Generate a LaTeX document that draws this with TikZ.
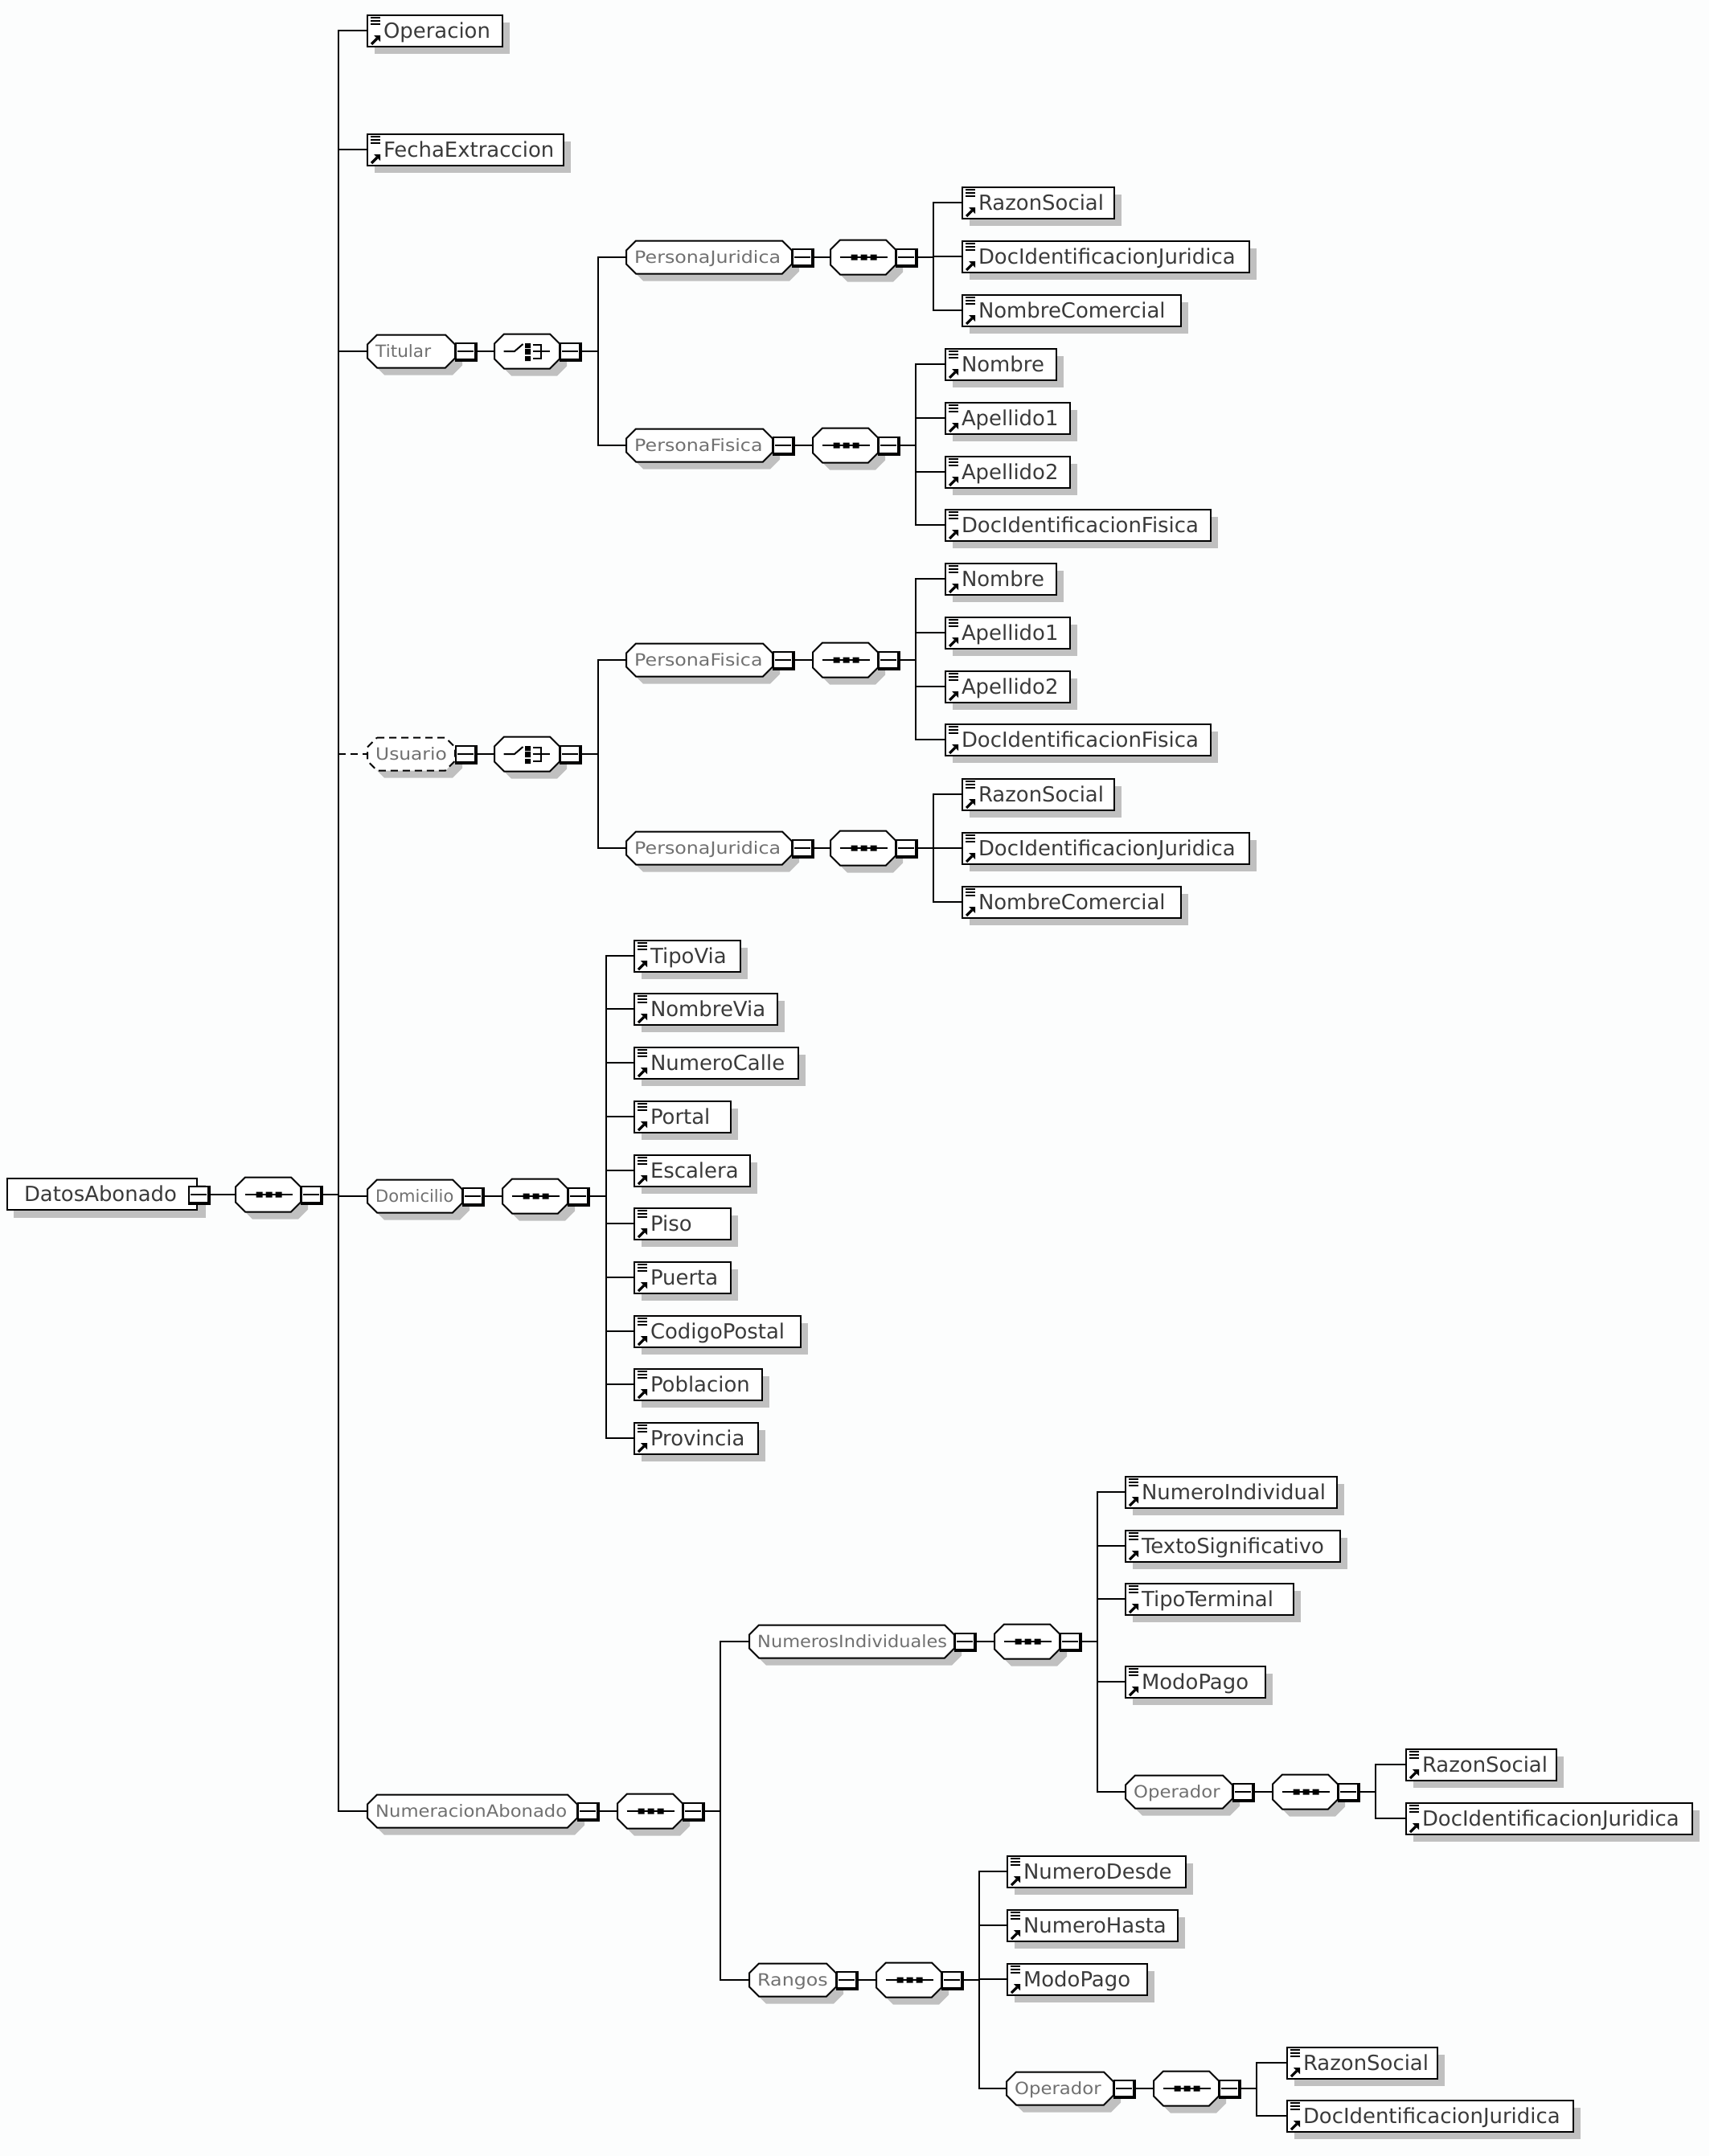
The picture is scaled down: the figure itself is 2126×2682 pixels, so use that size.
\documentclass[tikz,border=0pt]{standalone}
\usepackage{fontspec}
\setmainfont{DejaVu Sans}
\usetikzlibrary{shadows}
\definecolor{shad}{HTML}{C0C0C0}
\definecolor{paper}{HTML}{FCFDFD}
\definecolor{etext}{HTML}{3A3A3A}
\definecolor{ctext}{HTML}{707070}
\tikzset{
  conn/.style={line width=2pt,black},
  elem/.style={draw=black,line width=2pt,fill=white,inner sep=0pt,minimum height=39pt,anchor=west,
    text height=21pt,text depth=3pt,text=etext,font=\fontsize{25.9}{30}\selectfont,
    general shadow={shadow xshift=9pt,shadow yshift=-9pt,fill=shad}},
  cplxtext/.style={inner sep=0pt,minimum height=41pt,anchor=west,text height=18pt,text depth=3pt,
    text=ctext,font=\fontsize{21}{26}\selectfont},
  octline/.style={draw=black,line width=2pt,fill=white},
  sqbox/.style={draw=black,line width=2pt,fill=white,inner sep=0pt,minimum width=25pt,minimum height=21pt,anchor=west}
}
\newcommand{\xs}[2]{\scalebox{#1}[1]{#2}}
% square collapse box: name, left x, y
\newcommand{\sqb}[3]{%
  \node[sqbox] (#1) at (#2,#3) {};
  \draw[line width=4pt] ([xshift=-1pt]#1.north east) -- ([xshift=-1pt,yshift=1pt]#1.south east) -- ([yshift=1pt]#1.south west);
  \draw[line width=2pt] ([xshift=3pt]#1.west) -- ([xshift=-4pt]#1.east);
}
% octagon outline with its shadow: [style]{x1}{x2}{y}{half height}
\newcommand{\octo}[5][]{%
  \pgfmathsetmacro{\xa}{#2}\pgfmathsetmacro{\xb}{#3}\pgfmathsetmacro{\yc}{#4}\pgfmathsetmacro{\hh}{#5}%
  \fill[shad,shift={(9pt,-9pt)}] (\xa+12,\yc-\hh) -- (\xb-12,\yc-\hh) -- (\xb,\yc-\hh+12) -- (\xb,\yc+\hh-12) -- (\xb-12,\yc+\hh) -- (\xa+12,\yc+\hh) -- (\xa,\yc+\hh-12) -- (\xa,\yc-\hh+12) -- cycle;
  \path[octline,#1] (\xa+12,\yc-\hh) -- (\xb-12,\yc-\hh) -- (\xb,\yc-\hh+12) -- (\xb,\yc+\hh-12) -- (\xb-12,\yc+\hh) -- (\xa+12,\yc+\hh) -- (\xa,\yc+\hh-12) -- (\xa,\yc-\hh+12) -- cycle;
}
% element box: name, x1, x2, y, text
\newcommand{\elm}[5]{%
  \pgfmathsetmacro{\ww}{#3-#2-2}%
  \node[elem,minimum width=\ww pt] (#1) at (#2,#4) {\makebox[\ww pt][l]{\hspace*{20pt}#5}};
  \begin{scope}[shift={(#2,#4)}]
    \draw[line width=1.6pt] (5,-16) -- (17,-16) (5,-12) -- (17,-12) (5,-8) -- (17,-8);
    \draw[line width=3.2pt] (6,17) -- (13,10);
    \fill (9,6) -- (17,6) -- (17,14) -- cycle;
  \end{scope}
}
% complex type: [outline style]{name}{x1}{x2}{y}{text}
\newcommand{\cpx}[6][]{%
  \octo[#1]{#3}{#4}{#5}{20.5}
  \pgfmathsetmacro{\ww}{#4-#3}%
  \node[cplxtext,minimum width=\ww pt] (#2) at (#3,#5) {\makebox[\ww pt][l]{\hspace*{10pt}#6}};
  \sqb{#2-sq}{#4}{#5}
}
% compositor octagon frame: name, x1, y (width 81)
\newcommand{\cmpfr}[3]{%
  \pgfmathsetmacro{\xe}{#2+81}%
  \octo{#2}{\xe}{#3}{21.5}
  \node[inner sep=0pt,minimum width=81pt,minimum height=43pt] (#1) at (#2+40.5,#3) {};
  \sqb{#1-sq}{\xe}{#3}
}
% sequence compositor
\newcommand{\sq}[3]{%
  \cmpfr{#1}{#2}{#3}
  \begin{scope}[shift={(#1.center)}]
    \draw[line width=2pt] (-29,0) -- (30,0);
    \fill (-15,-3.5) rectangle (-7,3.5) (-3,-3.5) rectangle (5,3.5) (9,-3.5) rectangle (17,3.5);
  \end{scope}
}
% choice compositor
\newcommand{\chc}[3]{%
  \cmpfr{#1}{#2}{#3}
  \begin{scope}[shift={(#1.center)}]
    \draw[line width=2pt] (-29,0) -- (-15.5,0) -- (-5,-9);
    \fill (-2.5,-10) rectangle (4.5,-4) (-2.5,-3) rectangle (4.5,4) (-2.5,6) rectangle (4.5,12);
    \draw[line width=2pt] (7,-8) -- (17.5,-8) -- (17.5,9) -- (7,9) (7,0) -- (28,0);
  \end{scope}
}
\begin{document}
\begin{tikzpicture}[x=1pt,y=-1pt]
\useasboundingbox (0,0) rectangle (2126,2682);
\fill[paper] (0,0) rectangle (2126,2682);

% root
\fill[shad] (17,1474) rectangle (256,1515);
\node[elem,minimum width=236pt] (root) at (8,1485) {\makebox[236pt][l]{\hspace*{21pt}DatosAbonado}};
\sqb{root-sq}{234}{1486}
\sq{rs}{293}{1486}
\coordinate (trunk) at (421,1486);

% top level
\elm{oper}{456}{626}{38}{Operacion}
\elm{fecha}{456}{702}{186}{FechaExtraccion}

% Titular
\cpx{tit}{457}{566}{437}{\xs{1.03}{Titular}}
\chc{tc}{615}{437}
\coordinate (tv) at (744,437);
\cpx{tpj}{779}{985}{320}{\xs{1.13}{PersonaJuridica}}
\sq{tpjs}{1033}{320}
\coordinate (tpjv) at (1161,320);
\elm{tpj1}{1196}{1387}{252}{RazonSocial}
\elm{tpj2}{1196}{1555}{319}{DocIdentificacionJuridica}
\elm{tpj3}{1196}{1470}{386}{NombreComercial}
\cpx{tpf}{779}{961}{554}{\xs{1.13}{PersonaFisica}}
\sq{tpfs}{1011}{554}
\coordinate (tpfv) at (1139,554);
\elm{tpf1}{1175}{1315}{453}{Nombre}
\elm{tpf2}{1175}{1332}{520}{Apellido1}
\elm{tpf3}{1175}{1332}{587}{Apellido2}
\elm{tpf4}{1175}{1507}{653}{DocIdentificacionFisica}

% Usuario
\cpx[dashed,dash pattern=on 9pt off 6pt]{usu}{457}{566}{938}{\xs{1.11}{Usuario}}
\chc{uc}{615}{938}
\coordinate (uv) at (744,938);
\cpx{upf}{779}{961}{821}{\xs{1.13}{PersonaFisica}}
\sq{upfs}{1011}{821}
\coordinate (upfv) at (1139,821);
\elm{upf1}{1175}{1315}{720}{Nombre}
\elm{upf2}{1175}{1332}{787}{Apellido1}
\elm{upf3}{1175}{1332}{854}{Apellido2}
\elm{upf4}{1175}{1507}{920}{DocIdentificacionFisica}
\cpx{upj}{779}{985}{1055}{\xs{1.13}{PersonaJuridica}}
\sq{upjs}{1033}{1055}
\coordinate (upjv) at (1161,1055);
\elm{upj1}{1196}{1387}{988}{RazonSocial}
\elm{upj2}{1196}{1555}{1055}{DocIdentificacionJuridica}
\elm{upj3}{1196}{1470}{1122}{NombreComercial}

% Domicilio
\cpx{dom}{457}{575}{1488}{Domicilio}
\sq{ds}{625}{1488}
\coordinate (dv) at (754,1488);
\elm{d1}{788}{922}{1189}{TipoVia}
\elm{d2}{788}{968}{1255}{NombreVia}
\elm{d3}{788}{994}{1322}{NumeroCalle}
\elm{d4}{788}{910}{1389}{Portal}
\elm{d5}{788}{934}{1456}{Escalera}
\elm{d6}{788}{910}{1522}{Piso}
\elm{d7}{788}{910}{1589}{Puerta}
\elm{d8}{788}{997}{1656}{CodigoPostal}
\elm{d9}{788}{949}{1722}{Poblacion}
\elm{d10}{788}{944}{1789}{Provincia}

% NumeracionAbonado
\cpx{num}{457}{718}{2253}{\xs{1.08}{NumeracionAbonado}}
\sq{ns}{768}{2253}
\coordinate (nv) at (896,2253);
\cpx{ni}{932}{1187}{2042}{\xs{1.07}{NumerosIndividuales}}
\sq{nis}{1237}{2042}
\coordinate (niv) at (1365,2042);
\elm{ni1}{1399}{1664}{1856}{NumeroIndividual}
\elm{ni2}{1399}{1668}{1923}{TextoSignificativo}
\elm{ni3}{1399}{1610}{1989}{TipoTerminal}
\elm{ni4}{1399}{1575}{2092}{ModoPago}
\cpx{nop}{1400}{1533}{2229}{\xs{1.085}{Operador}}
\sq{nops}{1583}{2229}
\coordinate (nopv) at (1711,2229);
\elm{nop1}{1748}{1937}{2195}{RazonSocial}
\elm{nop2}{1748}{2106}{2262}{DocIdentificacionJuridica}
\cpx{ra}{932}{1040}{2463}{\xs{1.13}{Rangos}}
\sq{ras}{1090}{2463}
\coordinate (rav) at (1218,2463);
\elm{ra1}{1252}{1476}{2328}{NumeroDesde}
\elm{ra2}{1252}{1466}{2395}{NumeroHasta}
\elm{ra3}{1252}{1428}{2462}{ModoPago}
\cpx{rop}{1252}{1385}{2598}{\xs{1.085}{Operador}}
\sq{rops}{1435}{2598}
\coordinate (ropv) at (1563,2598);
\elm{rop1}{1600}{1789}{2566}{RazonSocial}
\elm{rop2}{1600}{1958}{2632}{DocIdentificacionJuridica}

% connectors
\begin{scope}[conn]
\draw (root-sq) -- (rs);
\draw (rs-sq) -- (trunk);
\draw (trunk) |- (oper);
\draw (trunk) |- (fecha);
\draw (trunk) |- (tit);
\draw (trunk) -- (trunk |- dom) -- (dom);
\draw (trunk) |- (num);
\draw[dashed,dash pattern=on 9pt off 6pt] (trunk |- usu) -- (usu);
\draw (tit-sq) -- (tc);
\draw (tc-sq) -- (tv);
\draw (tv) |- (tpj);
\draw (tv) |- (tpf);
\draw (tpj-sq) -- (tpjs);
\draw (tpjs-sq) -- (tpjv);
\foreach \k in {tpj1,tpj2,tpj3} \draw (tpjv) |- (\k);
\draw (tpf-sq) -- (tpfs);
\draw (tpfs-sq) -- (tpfv);
\foreach \k in {tpf1,tpf2,tpf3,tpf4} \draw (tpfv) |- (\k);
\draw (usu-sq) -- (uc);
\draw (uc-sq) -- (uv);
\draw (uv) |- (upf);
\draw (uv) |- (upj);
\draw (upf-sq) -- (upfs);
\draw (upfs-sq) -- (upfv);
\foreach \k in {upf1,upf2,upf3,upf4} \draw (upfv) |- (\k);
\draw (upj-sq) -- (upjs);
\draw (upjs-sq) -- (upjv);
\foreach \k in {upj1,upj2,upj3} \draw (upjv) |- (\k);
\draw (dom-sq) -- (ds);
\draw (ds-sq) -- (dv);
\foreach \k in {d1,d2,d3,d4,d5,d6,d7,d8,d9,d10} \draw (dv) |- (\k);
\draw (num-sq) -- (ns);
\draw (ns-sq) -- (nv);
\draw (nv) |- (ni);
\draw (nv) |- (ra);
\draw (ni-sq) -- (nis);
\draw (nis-sq) -- (niv);
\foreach \k in {ni1,ni2,ni3,ni4,nop} \draw (niv) |- (\k);
\draw (nop-sq) -- (nops);
\draw (nops-sq) -- (nopv);
\foreach \k in {nop1,nop2} \draw (nopv) |- (\k);
\draw (ra-sq) -- (ras);
\draw (ras-sq) -- (rav);
\foreach \k in {ra1,ra2,ra3,rop} \draw (rav) |- (\k);
\draw (rop-sq) -- (rops);
\draw (rops-sq) -- (ropv);
\foreach \k in {rop1,rop2} \draw (ropv) |- (\k);
\end{scope}
\end{tikzpicture}
\end{document}
